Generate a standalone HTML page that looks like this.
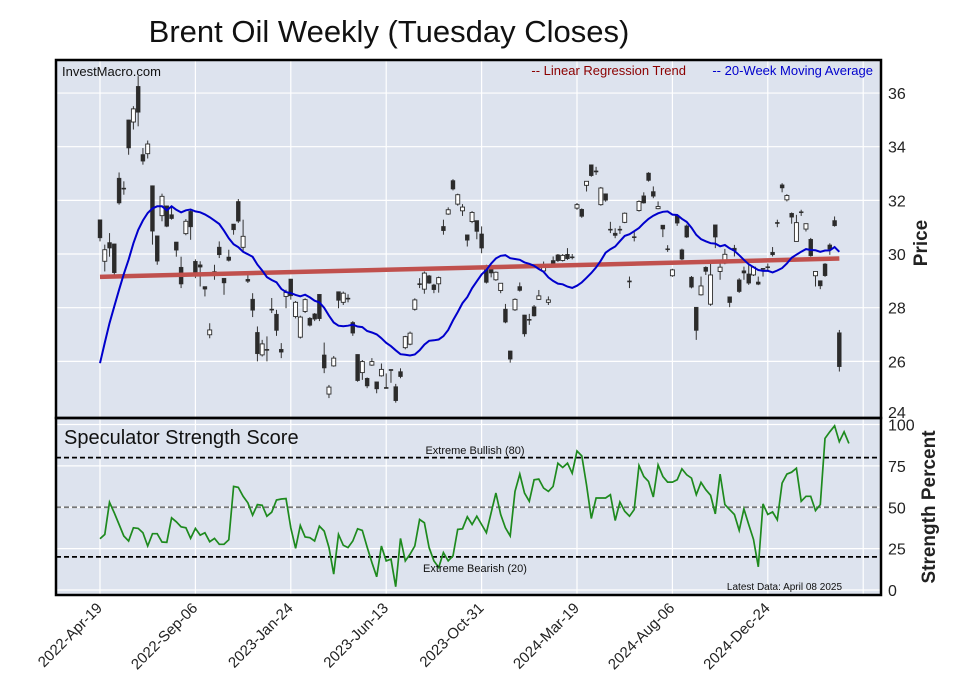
<!DOCTYPE html>
<html><head><meta charset="utf-8">
<style>
body{margin:0;background:#fff;width:957px;height:694px;overflow:hidden;font-family:"Liberation Sans",sans-serif}
svg text{font-family:"Liberation Sans",sans-serif}
</style></head>
<body>
<svg id="chart" width="957" height="694" viewBox="0 0 957 694" xmlns="http://www.w3.org/2000/svg">
<text x="389" y="42" font-size="31" text-anchor="middle" fill="#111">Brent Oil Weekly (Tuesday Closes)</text>
<rect x="56" y="60" width="825" height="358" fill="#dde3ee"/>
<rect x="56" y="418" width="825" height="177" fill="#dde3ee"/>
<g id="grid"></g>
<g id="price"></g>
<g id="strength"></g>
<rect x="56" y="60" width="825" height="358" fill="none" stroke="#000" stroke-width="2.5"/>
<rect x="56" y="418" width="825" height="177" fill="none" stroke="#000" stroke-width="2.5"/>
<text x="62" y="76" font-size="13" fill="#111">InvestMacro.com</text>
<text x="686" y="75" font-size="13" fill="#8b0000" text-anchor="end">-- Linear Regression Trend</text>
<text x="873" y="75" font-size="13" fill="#0000cc" text-anchor="end">-- 20-Week Moving Average</text>
<text x="64" y="444" font-size="20" fill="#111">Speculator Strength Score</text>
<text x="475" y="454" font-size="11" fill="#111" text-anchor="middle">Extreme Bullish (80)</text>
<text x="475" y="572" font-size="11" fill="#111" text-anchor="middle">Extreme Bearish (20)</text>
<text x="842" y="590" font-size="10" fill="#111" text-anchor="end">Latest Data: April 08 2025</text>
<text transform="translate(927,243) rotate(-90)" font-size="19" font-weight="bold" fill="#222" text-anchor="middle">Price</text>
<text transform="translate(935,507) rotate(-90)" font-size="19" font-weight="bold" fill="#222" text-anchor="middle">Strength Percent</text>
</svg>
<script>
const xLabels=["2022-Apr-19","2022-Sep-06","2023-Jan-24","2023-Jun-13","2023-Oct-31","2024-Mar-19","2024-Aug-06","2024-Dec-24"];
const priceTicks=[24,26,28,30,32,34,36];
const strengthTicks=[0,25,50,75,100];
const opens=[31.28,29.73,30.43,30.38,32.83,32.46,35.0,34.92,36.25,33.71,33.74,32.55,30.68,31.43,31.8,31.47,30.45,29.51,30.76,31.59,29.73,29.6,28.79,26.99,29.35,30.26,29.1,29.89,31.12,31.96,30.25,29.06,28.32,27.08,26.24,26.45,27.95,27.76,26.45,28.42,29.07,27.67,26.9,27.86,27.61,27.77,28.5,26.24,24.78,25.83,28.6,28.2,28.36,27.45,26.26,25.58,25.37,25.86,25.24,25.46,25.03,25.7,25.06,25.62,26.51,26.64,27.94,28.9,28.69,29.19,28.85,28.89,31.03,31.49,32.74,31.86,31.61,30.72,31.21,31.25,30.75,29.56,29.47,29.04,28.64,27.95,26.39,27.92,28.79,27.73,27.57,28.04,28.31,29.37,28.2,29.76,29.97,29.76,29.99,29.9,31.71,31.67,32.56,33.33,33.1,31.84,32.25,30.93,30.78,30.93,31.18,29.0,30.65,31.62,32.17,33.02,32.33,31.69,31.08,30.2,29.19,31.43,30.16,31.05,29.14,28.02,28.48,29.51,28.13,31.09,29.35,29.66,28.41,30.22,29.04,29.38,29.26,29.22,28.96,29.47,29.53,30.07,31.18,32.58,32.02,31.52,30.47,31.58,30.93,30.55,29.19,29.01,29.63,30.34,31.25,27.07];
const closes=[30.6,30.16,30.22,29.3,31.9,32.46,33.95,35.41,35.28,33.46,34.1,30.85,29.73,32.15,31.03,31.32,30.14,28.88,31.22,31.01,29.17,29.51,28.69,27.17,29.35,29.97,28.92,29.76,30.9,31.22,30.66,28.98,27.9,26.28,26.65,26.45,27.95,27.15,26.34,28.57,28.44,28.2,27.65,28.3,27.34,27.57,27.59,25.75,25.04,26.12,28.27,28.54,28.36,27.05,25.28,25.99,25.08,25.99,24.97,25.7,25.03,25.7,24.53,25.43,26.92,27.05,28.29,28.9,29.29,28.91,28.67,29.12,30.87,31.65,32.42,32.21,31.75,30.51,31.55,30.84,30.22,28.94,29.29,29.32,28.91,27.46,26.08,28.31,28.64,27.02,27.57,27.69,28.44,29.54,28.29,29.6,29.75,29.95,29.82,29.9,31.84,31.4,32.71,32.92,33.1,32.46,32.0,30.93,30.69,30.93,31.52,29.0,30.65,31.96,31.9,32.74,32.15,31.77,30.93,30.2,29.41,31.15,29.81,30.63,28.76,27.15,28.81,29.35,29.22,30.63,29.51,29.99,28.19,30.13,28.6,29.29,28.91,29.51,28.87,29.47,29.53,29.97,31.18,32.46,32.18,31.37,31.17,31.58,31.13,29.93,29.35,28.81,29.19,30.18,31.05,25.8];
const highs=[31.28,30.35,30.78,30.38,33.04,32.71,35.0,35.51,36.63,33.95,34.23,32.55,30.68,32.25,31.8,31.8,30.45,29.9,31.3,31.65,29.8,29.73,28.79,27.42,29.6,30.47,29.1,30.16,31.12,32.05,31.28,29.29,28.54,27.3,26.8,26.93,28.36,27.92,26.68,28.67,29.07,28.25,27.7,28.35,27.65,27.8,28.5,26.7,25.12,26.2,28.6,28.6,28.5,27.5,26.26,26.05,25.4,26.12,25.24,25.92,25.55,25.7,25.16,25.74,26.95,27.11,28.35,29.1,29.35,29.22,28.89,29.16,31.28,31.74,32.79,32.25,31.86,30.72,31.6,31.25,31.03,29.6,29.56,29.35,28.91,28.14,26.39,28.35,28.94,27.73,27.77,28.1,28.66,29.72,28.42,29.91,30.0,30.0,30.22,30.0,31.9,31.7,32.71,33.33,33.25,32.5,32.25,31.2,30.96,31.05,31.55,29.16,30.84,32.0,32.3,33.05,32.52,31.96,31.08,30.33,29.45,31.46,30.2,31.1,29.18,28.02,29.16,29.54,29.66,31.09,29.66,30.19,28.41,30.34,29.1,29.53,29.6,29.55,29.16,29.47,29.65,30.26,31.28,32.64,32.23,31.55,31.46,31.65,31.13,30.6,29.35,29.01,29.66,30.4,31.4,27.17];
const lows=[30.47,29.35,29.9,29.18,31.84,32.21,33.7,34.64,34.76,33.33,33.56,30.35,29.6,31.22,31.0,31.28,29.9,28.73,30.7,30.53,29.1,28.79,28.42,26.86,29.04,29.85,28.48,29.72,30.72,31.16,30.1,28.92,27.65,26.0,26.18,26.0,27.8,26.95,26.12,27.98,28.3,27.6,26.85,27.8,27.3,27.5,27.5,25.56,24.63,25.8,27.98,28.1,28.2,26.95,25.24,25.31,25.0,25.83,24.81,25.43,25.0,25.2,24.46,25.37,26.45,26.6,27.89,28.73,28.52,28.89,28.54,28.56,30.72,31.46,32.37,31.8,31.42,30.28,31.15,30.55,30.03,28.9,29.13,29.0,28.54,27.42,25.95,27.88,28.6,26.92,27.36,27.67,28.29,29.29,28.1,29.54,29.7,29.72,29.78,29.8,31.65,31.35,32.33,32.88,32.95,31.8,31.95,30.78,30.59,30.75,31.15,28.73,30.47,31.58,31.88,32.7,32.08,31.67,30.63,30.08,29.15,31.05,29.77,30.6,28.72,26.8,28.45,29.22,28.07,30.22,29.04,29.62,28.02,29.91,28.55,29.04,28.85,29.18,28.84,29.16,29.4,29.91,31.0,32.3,31.96,31.13,30.47,31.42,30.84,29.9,28.79,28.69,29.15,29.97,31.02,25.62];
const maEarly=[25.93,26.7,27.42,28.05,28.67,29.25,29.79,30.4,30.9,31.25,31.53,31.7,31.78,31.78,31.63,31.78,31.65,31.55,31.63];
const strength=[31,33.6,53,46.6,39.6,32.6,29.6,37.6,37.2,34.6,26.6,34,34,29,28.8,43.6,41.2,38.2,37.6,31.2,37.2,33.2,34.6,29.2,31.2,27.6,27.6,30.4,62.6,62,56.6,52.6,45.2,51.6,51.2,44.6,47,54.4,55,55.2,37.6,25.2,39,32,31.6,29.6,38.6,35.6,25.6,9.6,33.6,27,25.6,29.6,37,36,26,16.6,8,26.6,17.6,18.6,2,31.2,17.6,21.6,26.6,42.6,40.6,25.6,17.6,13.6,22.6,17.6,20.6,36.6,37,44.2,39.6,44.6,39.6,34.6,46.6,58.6,45.6,37.6,32.6,59.6,70,58.6,53.6,66.6,67,61.6,59.6,62.6,76.6,74,76.6,70.6,84,81,63.6,43.2,55.6,55.6,55.6,57.6,42,53.2,47.6,44.6,48.6,75.2,68.6,65.6,56.2,75.6,68.6,65.2,65.2,66.6,73.2,69.6,67.6,57.6,65,60.6,57.2,46,70,51.6,48.6,45.6,36,49,39.6,30.6,14,52,45.6,47.2,42.4,64.6,70,71.2,73.6,53.6,56.6,56.6,48,51.6,91.6,95.6,99.2,89.6,95.6,88.6];

const NS="http://www.w3.org/2000/svg";
const x0=100,wk=4.77;
function xs(i){return x0+i*wk;}
function yp(v){return 415-(v-24)*26.83;}
function ys(v){return 590-v*1.655;}
function mk(tag,attrs,parent){const e=document.createElementNS(NS,tag);for(const k in attrs)e.setAttribute(k,attrs[k]);parent.appendChild(e);return e;}
const grid=document.getElementById('grid'),svg=document.getElementById('chart');
const price=document.getElementById('price'),str=document.getElementById('strength');
xLabels.forEach((lab,k)=>{
  const x=xs(k*20);
  const g1=mk('line',{x1:x,x2:x,y1:60,y2:595,stroke:'#fff','stroke-width':1.2},grid);
  
  
  const t=mk('text',{x:0,y:0,'font-size':15,fill:'#222','text-anchor':'end',transform:`translate(${x+3},${609}) rotate(-45)`},svg);
  t.textContent=lab;
  
  
});
{const x=xs(160);const g1=mk('line',{x1:x,x2:x,y1:60,y2:595,stroke:'#fff','stroke-width':1.2},grid);

}
priceTicks.forEach(v=>{
  const y=yp(v);
  if(v>24){const l=mk('line',{x1:56,x2:881,y1:y,y2:y,stroke:'#fff','stroke-width':1.2},grid);
  
  }
  const t=mk('text',{x:888,y:v===24?y+3:y+6,'font-size':16,fill:'#222'},svg);
  t.textContent=v;
  
  
});
strengthTicks.forEach(v=>{
  const y=ys(v);
  const l=mk('line',{x1:56,x2:881,y1:y,y2:y,stroke:'#fff','stroke-width':1.2},grid);
  
  
  const t=mk('text',{x:888,y:y+6,'font-size':16,fill:'#222'},svg);
  t.textContent=v;
  
  
});
closes.forEach((c,i)=>{
  const o=opens[i],x=xs(i);
  const w=mk('line',{x1:x,x2:x,y1:yp(highs[i]),y2:yp(lows[i]),stroke:'#333','stroke-width':1},price);
  
  
  const top=yp(Math.max(o,c)),bot=yp(Math.min(o,c));
  const up=c>o;
  const r=mk('rect',{x:x-2,y:top,width:4,height:Math.max(bot-top,1.2),fill:up?'#fff':'#2b2b2b',stroke:'#2b2b2b','stroke-width':up?0.9:0.4},price);
  
  
});
{const n=closes.length;let sx=0,sy=0,sxx=0,sxy=0;closes.forEach((v,i)=>{sx+=i;sy+=v;sxx+=i*i;sxy+=i*v;});
const b=(n*sxy-sx*sy)/(n*sxx-sx*sx),a=(sy-b*sx)/n;
const l=mk('line',{x1:xs(0),x2:xs(n-1),y1:yp(a),y2:yp(a+b*(n-1)),stroke:'#c0504d','stroke-width':4.5},price);

}
{let pts=[];closes.forEach((c,i)=>{let v;if(i<maEarly.length)v=maEarly[i];else{let s=0;for(let j=i-19;j<=i;j++)s+=closes[j];v=s/20;}pts.push(xs(i).toFixed(1)+','+yp(v).toFixed(1));});
const p=mk('polyline',{points:pts.join(' '),fill:'none',stroke:'#0000cc','stroke-width':2},price);

}
[[80,'#000','extreme-bullish-line'],[50,'#777','neutral-line'],[20,'#000','extreme-bearish-line']].forEach(([v,col,nm])=>{
  const l=mk('line',{x1:56,x2:881,y1:ys(v),y2:ys(v),stroke:col,'stroke-width':1.8,'stroke-dasharray':'5,3'},str);
  
  
});
{const pts=strength.map((v,i)=>xs(i).toFixed(1)+','+ys(v).toFixed(1));
const p=mk('polyline',{points:pts.join(' '),fill:'none',stroke:'#1e8a1e','stroke-width':1.7},str);

}
</script>
</body></html>
